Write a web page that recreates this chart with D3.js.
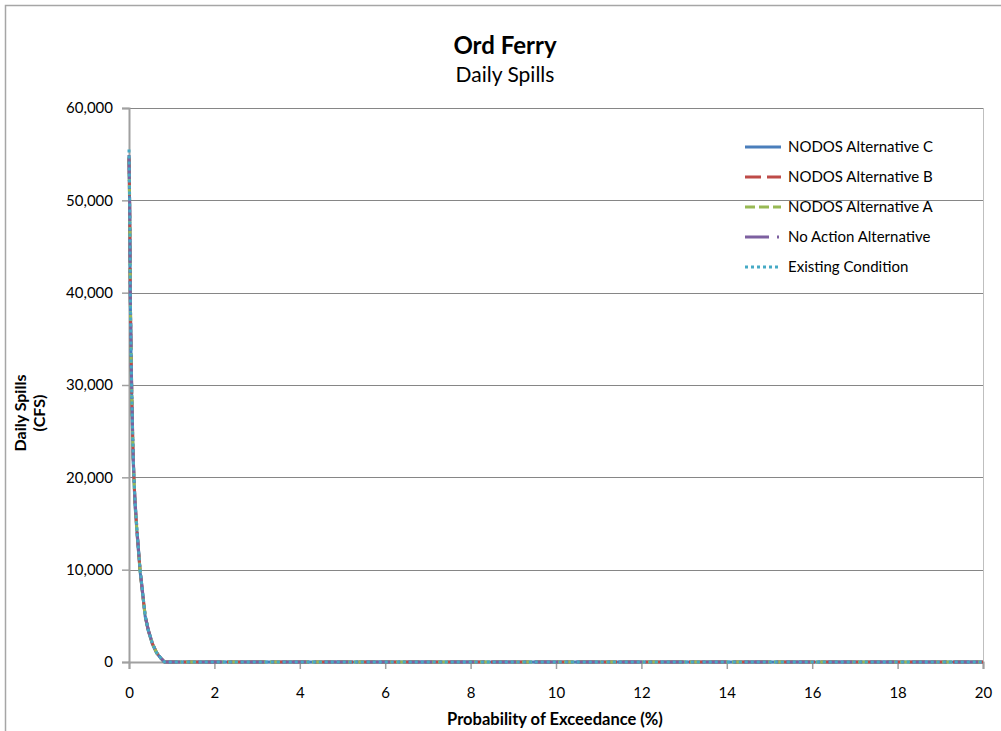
<!DOCTYPE html>
<html><head><meta charset="utf-8">
<script src="https://cdn.jsdelivr.net/npm/d3@7"></script>
<style>body{margin:0;background:#fff}svg{display:block}text{font-family:Lato,"Open Sans",sans-serif}</style>
</head><body>
<svg id="chart" width="1001" height="731"></svg>
<script>
const titleText = "Ord Ferry";
const subtitleText = "Daily Spills";
const xAxisTitle = "Probability of Exceedance (%)";
const yAxisTitleLines = ["Daily Spills", "(CFS)"];
const xTicks = [0, 2, 4, 6, 8, 10, 12, 14, 16, 18, 20];
const yTicks = [0, 10000, 20000, 30000, 40000, 50000, 60000];
const exceedance = [0, 0.01, 0.02, 0.03, 0.05, 0.07, 0.10, 0.14, 0.20, 0.26, 0.32, 0.38, 0.45, 0.55, 0.65, 0.75, 0.83, 1, 2, 5, 10, 15, 20];
const altC     = [54500, 51000, 47000, 39500, 32500, 27500, 21500, 17000, 13200, 9800, 7300, 4900, 3400, 1900, 950, 380, 0, 0, 0, 0, 0, 0, 0];
const altB     = [54600, 51500, 47500, 40000, 33000, 27800, 21800, 17300, 13400, 9900, 7400, 5000, 3500, 2000, 1000, 400, 0, 0, 0, 0, 0, 0, 0];
const altA     = [54700, 51200, 47200, 39800, 32800, 27700, 21700, 17200, 13300, 9850, 7350, 4950, 3450, 1950, 980, 390, 0, 0, 0, 0, 0, 0, 0];
const noAction = [54900, 51800, 47800, 40200, 33200, 28000, 22000, 17500, 13500, 10000, 7500, 5000, 3500, 2000, 1000, 400, 0, 0, 0, 0, 0, 0, 0];
const existing = [55500, 52000, 48000, 40000, 33000, 28000, 22000, 17500, 13500, 10000, 7500, 5000, 3500, 2000, 1000, 400, 0, 0, 0, 0, 0, 0, 0];
const seriesNames = ["NODOS Alternative C", "NODOS Alternative B", "NODOS Alternative A", "No Action Alternative", "Existing Condition"];
const seriesValues = [altC, altB, altA, noAction, existing];
const seriesColors = ["#4A7EBB", "#BE4B48", "#98B954", "#7D60A0", "#46AAC5"];
const seriesDash = ["none", "16,6", "10,4", "24,8,2,8", "3,3"];

const svg = d3.select("#chart");
// outer chart border
svg.append("rect").attr("x", 5.5).attr("y", 5.5).attr("width", 1100).attr("height", 1000)
  .attr("fill", "#fff").attr("stroke", "#a6a6a6").attr("stroke-width", 1.5);

const L = 129, R = 983, T = 108, B = 662;
const x = d3.scaleLinear().domain([0, 20]).range([L, R]);
const y = d3.scaleLinear().domain([0, 60000]).range([B, T]);

// gridlines
svg.append("g").selectAll("line").data(yTicks.filter(d => d > 0)).join("line")
  .attr("x1", L).attr("x2", R).attr("y1", d => Math.round(y(d)) + 0.5).attr("y2", d => Math.round(y(d)) + 0.5)
  .attr("stroke", "#868686").attr("stroke-width", 1);
// right border of plot area
svg.append("line").attr("x1", R + 0.5).attr("x2", R + 0.5).attr("y1", T).attr("y2", B)
  .attr("stroke", "#bfbfbf").attr("stroke-width", 1);

// y axis
const yAxis = d3.axisLeft(y).tickValues(yTicks).tickFormat(d3.format(",")).tickSize(7).tickPadding(9);
const gy = svg.append("g").attr("transform", `translate(${L},0)`).call(yAxis);
gy.select(".domain").attr("stroke", "#a0a0a0").attr("stroke-width", 2);
gy.selectAll(".tick line").attr("stroke", "#a0a0a0").attr("stroke-width", 1.5);
gy.selectAll("text").attr("font-size", 15).attr("fill", "#000").attr("font-family", "Lato, sans-serif");

// x axis
const xAxis = d3.axisBottom(x).tickValues(xTicks).tickFormat(d3.format("d")).tickSize(7).tickPadding(18);
const gx = svg.append("g").attr("transform", `translate(0,${B})`).call(xAxis);
gx.select(".domain").attr("stroke", "#a0a0a0").attr("stroke-width", 2);
gx.selectAll(".tick line").attr("stroke", "#a0a0a0").attr("stroke-width", 1.5);
gx.selectAll("text").attr("font-size", 15).attr("fill", "#000").attr("font-family", "Lato, sans-serif");

// series lines
const line = d3.line().x((d, i) => x(exceedance[i])).y(d => y(d));
seriesValues.forEach((vals, k) => {
  svg.append("path").datum(vals).attr("d", line)
    .attr("fill", "none").attr("stroke", seriesColors[k]).attr("stroke-width", 3)
    .attr("stroke-dasharray", seriesDash[k]).attr("stroke-linejoin", "round");
});

// titles
svg.append("text").attr("x", 505).attr("y", 54).attr("text-anchor", "middle")
  .attr("font-size", 24).attr("font-weight", "bold").text(titleText);
svg.append("text").attr("x", 505).attr("y", 82).attr("text-anchor", "middle")
  .attr("font-size", 21).text(subtitleText);
svg.append("text").attr("x", 555).attr("y", 725).attr("text-anchor", "middle")
  .attr("font-size", 16.5).attr("font-weight", "bold").text(xAxisTitle);
yAxisTitleLines.forEach((t, i) => {
  svg.append("text").attr("transform", `translate(${26 + i * 19},413) rotate(-90)`)
    .attr("text-anchor", "middle").attr("font-size", 16).attr("font-weight", "bold").text(t);
});

// legend
const lg = svg.append("g");
seriesNames.forEach((name, k) => {
  const yy = 147 + k * 30;
  lg.append("line").attr("x1", 745).attr("x2", 781).attr("y1", yy).attr("y2", yy)
    .attr("stroke", seriesColors[k]).attr("stroke-width", 3).attr("stroke-dasharray", seriesDash[k]);
  lg.append("text").attr("x", 788).attr("y", yy + 5).attr("font-size", 15).text(name);
});
</script>
</body></html>
